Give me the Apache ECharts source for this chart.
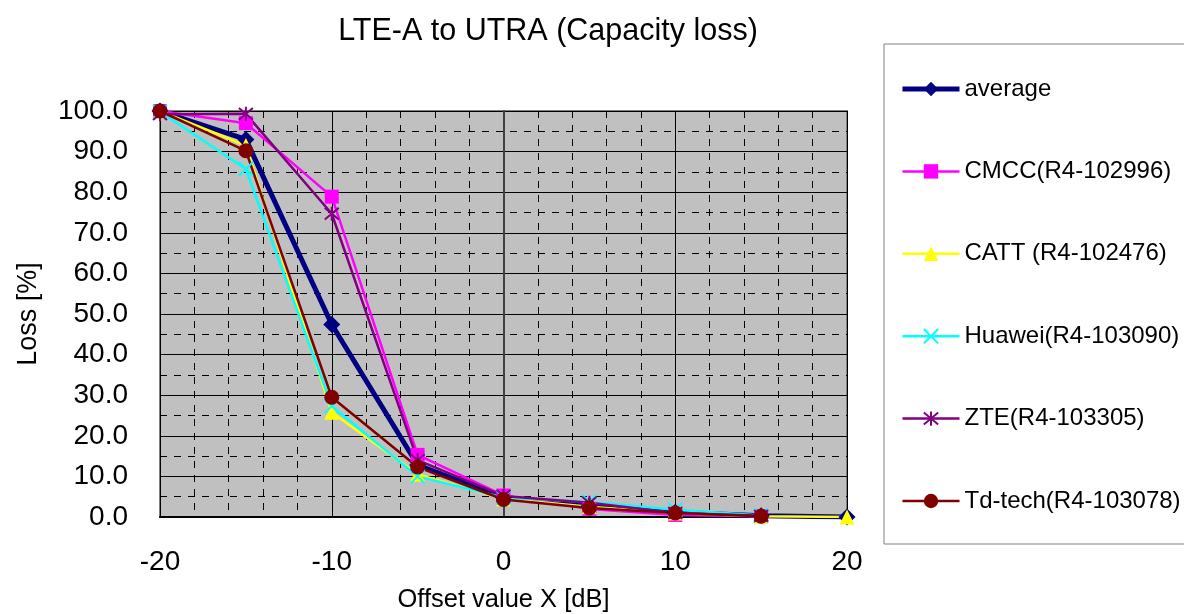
<!DOCTYPE html>
<html>
<head>
<meta charset="utf-8">
<script src="https://cdn.jsdelivr.net/npm/echarts@6/dist/echarts.min.js"></script>
<style>
  html, body { margin: 0; padding: 0; background: #fff; }
  #chart { width: 1184px; height: 614px; }
</style>
</head>
<body>
<div id="chart"></div>
<script>
// offset values X [dB]
const offsets = [-20, -15, -10, -5, 0, 5, 10, 15, 20]
// capacity loss [%], null = no point
const average = [100, 93.0, 47.4, 12.8, 4.8, 2.8, 1.2, 0.3, 0]
const cmcc    = [100, 97.0, 78.9, 15.3, 5.3, 2.0, 0.5, 0.2, null]
const catt    = [100, 91.5, 25.8, 10.5, 4.5, 2.5, 1.0, 0.2, 0]
const huawei  = [99.8, 85.7, 27.3, 10.0, 4.8, 3.7, 1.8, 0.4, null]
const zte     = [99.2, 99.3, 74.7, 14.0, 5.2, 3.5, 1.0, 0.3, null]
const tdtech  = [100, 90.2, 29.5, 12.3, 4.3, 2.2, 1.0, 0.2, null]

const FONT = 'Liberation Sans, Arial, sans-serif'

const pairs = (vals) => offsets.map((x, i) => [x, vals[i]]).filter(p => p[1] !== null)

const mkSeries = (name, vals, color, symbol, size, width, extra) => Object.assign({
  name: name,
  type: 'line',
  data: pairs(vals),
  symbol: symbol,
  symbolSize: size,
  lineStyle: { color: color, width: width },
  itemStyle: { color: color },
  emphasis: { disabled: true },
  animation: false
}, extra || {})

const chart = echarts.init(document.getElementById('chart'))

chart.setOption({
  title: {
    text: 'LTE-A to UTRA (Capacity loss)',
    left: 543,
    top: 11,
    textAlign: 'center',
    textStyle: { fontFamily: FONT, fontSize: 30.5, fontWeight: 'normal', color: '#000' }
  },
  legend: {
    orient: 'vertical',
    left: 884,
    top: 44,
    padding: [33, 30, 31, 16],
    itemGap: 58.4,
    itemWidth: 57,
    itemHeight: 18,
    borderColor: '#808080',
    borderWidth: 1,
    textStyle: { fontFamily: FONT, fontSize: 24, color: '#000' },
    data: [
      { name: 'average', lineStyle: { width: 5 } },
      { name: 'CMCC(R4-102996)', lineStyle: { width: 2.5 } },
      { name: 'CATT (R4-102476)', lineStyle: { width: 2.5 } },
      { name: 'Huawei(R4-103090)', lineStyle: { width: 2.5 } },
      { name: 'ZTE(R4-103305)', lineStyle: { width: 2.5 } },
      { name: 'Td-tech(R4-103078)', lineStyle: { width: 2.5 } }
    ]
  },
  grid: {
    left: 160,
    right: 337,
    top: 111,
    bottom: 97,
    outerBoundsMode: 'none',
    containLabel: false,
    show: true,
    backgroundColor: '#c0c0c0',
    borderColor: '#808080',
    borderWidth: 2
  },
  xAxis: {
    type: 'value',
    min: -20,
    max: 20,
    interval: 10,
    name: 'Offset value X [dB]',
    nameLocation: 'middle',
    nameGap: 70,
    nameTextStyle: { fontFamily: FONT, fontSize: 25.5, color: '#000' },
    axisLine: { show: true, onZero: false, lineStyle: { color: '#000', width: 2 } },
    axisTick: { show: false },
    axisLabel: { margin: 31, fontFamily: FONT, fontSize: 28, color: '#000' },
    splitLine: { show: true, lineStyle: { color: '#000', width: 1 } },
    minorTick: { show: false, splitNumber: 5 },
    minorSplitLine: { show: true, lineStyle: { color: '#000', width: 1, type: [7, 7] } }
  },
  yAxis: {
    type: 'value',
    min: 0,
    max: 100,
    interval: 10,
    name: 'Loss [%]',
    nameLocation: 'middle',
    nameGap: 118,
    nameTextStyle: { fontFamily: FONT, fontSize: 27, color: '#000' },
    axisLine: { show: true, lineStyle: { color: '#404040', width: 2 } },
    axisTick: { show: false },
    axisLabel: {
      margin: 32, fontFamily: FONT, fontSize: 28, color: '#000',
      formatter: (v) => v.toFixed(1)
    },
    splitLine: { show: true, lineStyle: { color: '#000', width: 1 } },
    minorTick: { show: false, splitNumber: 2 },
    minorSplitLine: { show: true, lineStyle: { color: '#000', width: 1, type: [7, 7] } }
  },
  series: [
    mkSeries('average', average, '#000080', 'diamond', 17, 5),
    mkSeries('CMCC(R4-102996)', cmcc, '#ff00ff', 'rect', 14, 2.5),
    mkSeries('CATT (R4-102476)', catt, '#ffff00', 'triangle', 15, 2.5),
    mkSeries('Huawei(R4-103090)', huawei, '#00ffff', 'path://M0,0L10,10M10,0L0,10', 14, 2.5,
      { itemStyle: { color: 'none', borderColor: '#00ffff', borderWidth: 2 } }),
    mkSeries('ZTE(R4-103305)', zte, '#800080', 'path://M0,0L10,10M10,0L0,10M5,-1L5,11', 14, 2.5,
      { itemStyle: { color: 'none', borderColor: '#800080', borderWidth: 2 } }),
    mkSeries('Td-tech(R4-103078)', tdtech, '#800000', 'circle', 15, 2.5)
  ]
})
</script>
</body>
</html>
